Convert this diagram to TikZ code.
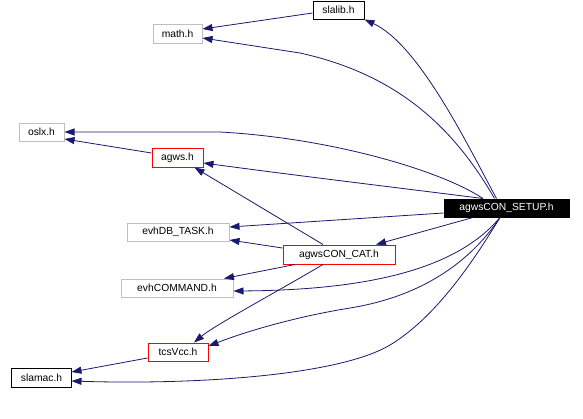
\documentclass[tikz,border=0pt]{standalone}
\usepackage{fontspec}
\setmainfont{Liberation Sans}
\usetikzlibrary{arrows.meta}
\definecolor{edgeblue}{HTML}{191970}
\definecolor{boxgray}{HTML}{BFBFBF}
\definecolor{boxred}{HTML}{FF0000}
\begin{document}
\begin{tikzpicture}[x=1bp,y=-1bp,
  box/.style={draw, rectangle, inner sep=0pt, line width=1bp, fill=white,
    font=\fontsize{10.3bp}{12bp}\selectfont},
  graybox/.style={box, draw=boxgray},
  redbox/.style={box, draw=boxred},
  blackbox/.style={box, draw=black},
  rootbox/.style={box, draw=black, fill=black, text=white},
  edge/.style={draw=edgeblue, line width=0.8bp, -{Triangle[length=10bp,width=7bp]}}
]
\useasboundingbox (0,0) rectangle (583,418);
\fill[white] (0,0) rectangle (583,418);

\node[blackbox, minimum width=51bp, minimum height=18bp] (slalib) at (338.5,10) {slalib.h};
\node[graybox, minimum width=49bp, minimum height=19bp] (math) at (177.5,33.5) {math.h};
\node[graybox, minimum width=45bp, minimum height=18bp] (oslx) at (41.5,132) {oslx.h};
\node[redbox, minimum width=51bp, minimum height=19bp] (agws) at (177.5,157.5) {agws.h};
\node[rootbox, minimum width=125bp, minimum height=18bp] (setup) at (506.5,208) {agwsCON\_SETUP.h};
\node[graybox, minimum width=102bp, minimum height=18bp] (evhdb) at (178,232) {evhDB\_TASK.h};
\node[redbox, minimum width=112bp, minimum height=19bp] (cat) at (339,254.5) {agwsCON\_CAT.h};
\node[graybox, minimum width=112bp, minimum height=18bp] (evhcmd) at (177,288) {evhCOMMAND.h};
\node[redbox, minimum width=60bp, minimum height=18bp] (tcs) at (178,352) {tcsVcc.h};
\node[blackbox, minimum width=59bp, minimum height=19bp] (slamac) at (41.5,377.5) {slamac.h};

% agwsCON_SETUP.h edges
\draw[edge] ([xshift=-10bp]setup.north) .. controls (470,150) and (420,45) .. (slalib.south east);
\draw[edge] ([xshift=-12bp]setup.north) .. controls (455,130) and (400,75) .. (300,53) -- ([yshift=-4.5bp]math.east);
\draw[edge] ([xshift=-23.5bp]setup.north) .. controls (440,170) and (330,138) .. (220,132) -- (oslx.east);
\draw[edge] ([xshift=-23.5bp]setup.north) .. controls (400,188) and (300,176) .. ([yshift=-5.5bp]agws.east);
\draw[edge] ([yshift=-5bp]setup.west) -- ([yshift=5bp]evhdb.east);
\draw[edge] ([xshift=-33.5bp]setup.south) -- ([xshift=37bp]cat.north);
\draw[edge] ([xshift=-6.5bp]setup.south) .. controls (460,265) and (380,290) .. ([yshift=-3bp]evhcmd.east);
\draw[edge] ([xshift=-6.5bp]setup.south) .. controls (475,255) and (430,295) .. (350,308) .. controls (300,316) and (250,330) .. ([yshift=6bp]tcs.east);
\draw[edge] ([xshift=-6.5bp]setup.south) .. controls (480,250) and (440,315) .. (390,345) .. controls (340,375) and (200,385) .. ([yshift=-3.5bp]slamac.east);

% other edges
\draw[edge] ([yshift=-3bp]slalib.west) -- ([yshift=4.5bp]math.east);
\draw[edge] ([yshift=4.5bp]agws.west) -- ([yshift=-7bp]oslx.east);
\draw[edge] ([xshift=-16bp]cat.north) -- ([xshift=17bp]agws.south);
\draw[edge] ([yshift=6.5bp]cat.west) -- ([yshift=-8bp]evhdb.east);
\draw[edge] ([xshift=-44bp]cat.south) -- ([xshift=47bp]evhcmd.north);
\draw[edge] ([xshift=-16bp]cat.south) .. controls (280,290) and (215,325) .. ([xshift=16bp]tcs.north);
\draw[edge] ([yshift=-6bp]tcs.west) -- ([yshift=5.5bp]slamac.east);
\end{tikzpicture}
\end{document}
